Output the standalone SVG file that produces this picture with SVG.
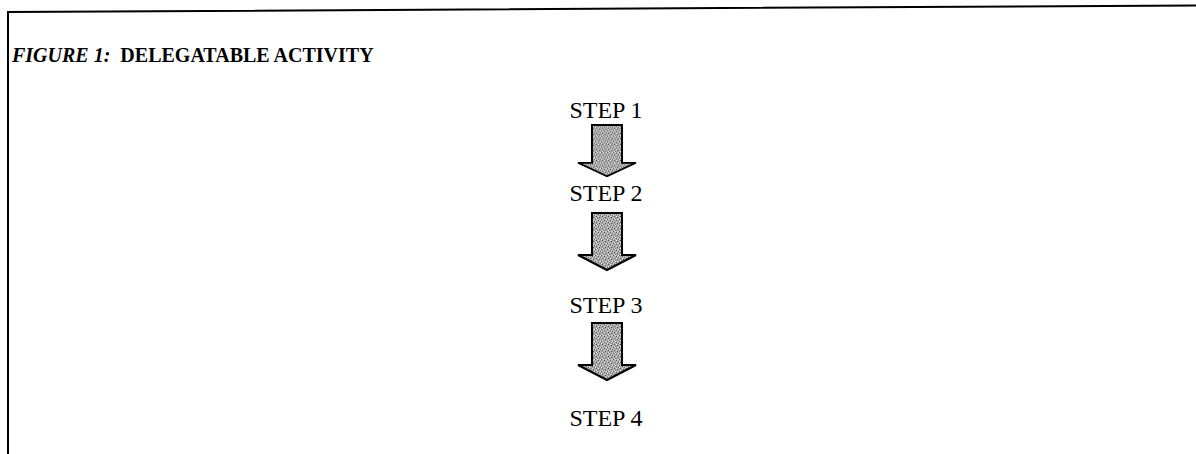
<svg xmlns="http://www.w3.org/2000/svg" width="1196" height="454" viewBox="0 0 1196 454">
  <defs>
    <!-- stippled grey fill for the block arrows -->
    <pattern id="stipple" width="6" height="6" patternUnits="userSpaceOnUse">
      <rect width="6" height="6" fill="#a9a9a9"/>
      <rect x="0" y="0" width="1" height="1" fill="#555"/>
      <rect x="3" y="1" width="1" height="1" fill="#555"/>
      <rect x="1" y="3" width="1" height="1" fill="#555"/>
      <rect x="4" y="4" width="1" height="1" fill="#555"/>
      <rect x="5" y="2" width="1" height="1" fill="#6a6a6a"/>
      <rect x="2" y="5" width="1" height="1" fill="#6a6a6a"/>
      <rect x="2" y="0" width="1" height="1" fill="#e8e8e8"/>
      <rect x="5" y="0" width="1" height="1" fill="#e8e8e8"/>
      <rect x="0" y="2" width="1" height="1" fill="#e8e8e8"/>
      <rect x="3" y="3" width="1" height="1" fill="#e8e8e8"/>
      <rect x="1" y="5" width="1" height="1" fill="#e8e8e8"/>
      <rect x="4" y="1" width="1" height="1" fill="#d0d0d0"/>
    </pattern>
    <!-- down arrow: shaft 30 wide, head 58 wide -->
    <path id="downArrow" d="M-15,0 H15 V42 H29 L0,57 L-29,42 H-15 Z"/>
  </defs>
  <style>
    .frame { fill: none; stroke: #000; stroke-width: 2; }
    .title { font-family: "Liberation Serif", "Times New Roman", serif; font-weight: bold; font-size: 20px; fill: #000; }
    .title .fig { font-style: italic; }
    .step { font-family: "Liberation Serif", "Times New Roman", serif; font-size: 24px; fill: #000; text-anchor: middle; }
    .arrow { fill: url(#stipple); stroke: #000; stroke-width: 2; stroke-linejoin: miter; }
  </style>

  <rect width="1196" height="454" fill="#fff"/>

  <!-- figure frame (open at right and bottom) -->
  <polyline class="frame" points="1196,5.5 8,12 8,454"/>

  <!-- caption -->
  <text class="title" x="12" y="62" xml:space="preserve"><tspan class="fig">FIGURE 1:</tspan>  DELEGATABLE ACTIVITY</text>

  <g id="step1"><text class="step" x="606" y="118">STEP 1</text></g>
  <g id="step2"><text class="step" x="606" y="201">STEP 2</text></g>
  <g id="step3"><text class="step" x="606" y="313">STEP 3</text></g>
  <g id="step4"><text class="step" x="606" y="426">STEP 4</text></g>

  <g id="connectors">
    <use class="arrow" href="#downArrow" transform="translate(607,125) scale(1,0.9)"/>
    <use class="arrow" href="#downArrow" transform="translate(607,213)"/>
    <use class="arrow" href="#downArrow" transform="translate(607,323)"/>
  </g>
</svg>
